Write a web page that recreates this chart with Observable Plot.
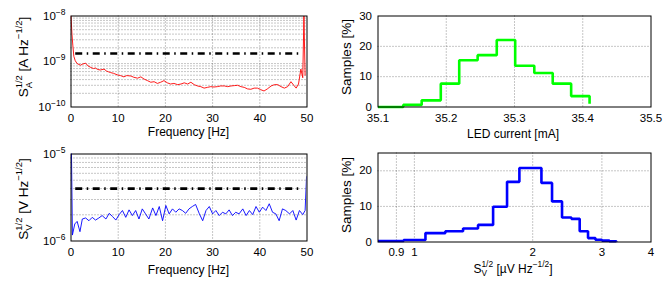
<!DOCTYPE html>
<html><head><meta charset="utf-8">
<script src="https://cdn.jsdelivr.net/npm/d3@7"></script>
<script src="https://cdn.jsdelivr.net/npm/@observablehq/plot@0.6"></script>
<style>
body{margin:0;background:#fff;}
#c{position:relative;width:671px;height:286px;overflow:hidden;}
#c svg{position:absolute;left:0;top:0;}
</style></head><body><div id="c"></div><script>
const font = '"Liberation Sans", Arial, Helvetica, sans-serif';

// ---- Panel A: current noise spectrum (values in units of 1e-10 A/sqrt(Hz))
const freqA = [0, 0.2, 0.4, 0.6, 0.9, 1.3, 1.7, 2.0, 2.5, 3.1,
  3.6, 4.2, 4.8, 5.2, 5.6, 6.2, 7.0, 7.5, 8.0, 8.4,
  9.0, 9.8, 10.5, 11.2, 11.8, 12.7, 13.3, 14.1, 14.8, 15.5,
  16.2, 16.9, 17.6, 18.3, 19.0, 19.7, 20.4, 21.1, 21.8, 22.6,
  23.3, 24.0, 24.7, 25.4, 26.1, 26.8, 27.5, 28.2, 28.9, 29.6,
  30.3, 31.0, 31.7, 32.5, 33.2, 33.9, 34.6, 35.3, 36.0, 36.7,
  37.4, 38.1, 38.8, 39.5, 40.2, 40.9, 41.6, 42.4, 43.1, 43.8,
  44.5, 45.2, 45.9, 46.6, 47.2, 47.7, 48.2, 48.7, 49.1, 49.35, 49.6];
const noiseA = [100, 40, 22, 13, 10.4, 9.0, 8.6, 8.3, 8.8, 9.2,
  8.0, 7.4, 7.0, 7.2, 6.7, 6.5, 6.8, 6.2, 5.9, 5.7,
  5.5, 5.1, 4.9, 4.6, 4.9, 4.8, 4.5, 4.3, 4.6, 4.1,
  3.8, 3.5, 3.6, 3.3, 3.5, 3.8, 3.4, 3.2, 3.3, 3.1,
  3.2, 3.4, 3.2, 3.5, 3.1, 2.9, 2.8, 2.6, 2.7, 2.8,
  2.75, 2.8, 2.9, 2.9, 2.8, 2.9, 2.95, 3.0, 2.8, 2.7,
  2.5, 2.45, 2.6, 2.6, 2.4, 2.25, 2.5, 2.9, 3.1, 3.1,
  2.8, 2.6, 2.8, 3.6, 3.0, 2.6, 3.2, 6.8, 4.4, 100, 5.0];
const unitA = 1e-10;
const limitA = 1.5e-9;
const limitFreq = [1, 49];

// ---- Panel C: voltage noise spectrum (values in uV/sqrt(Hz))
const freqV = [0, 0.3, 0.8, 1.3, 1.9, 2.4, 3.1, 3.8, 4.5, 5.2,
  5.9, 6.6, 7.4, 8.1, 8.8, 9.5, 10.2, 10.9, 11.6, 12.3,
  13.0, 13.7, 14.4, 15.1, 15.8, 16.5, 17.3, 18.0, 18.7, 19.4,
  20.1, 20.8, 21.5, 22.2, 22.9, 23.6, 24.3, 25.0, 25.7, 26.4,
  27.2, 27.9, 28.6, 29.3, 30.0, 30.7, 31.4, 32.1, 32.8, 33.5,
  34.2, 34.9, 35.6, 36.4, 37.1, 37.8, 38.5, 39.2, 39.9, 40.6,
  41.3, 42.0, 42.7, 43.4, 44.1, 44.8, 45.5, 46.3, 47.0, 47.7,
  48.4, 49.1, 49.6, 49.9];
const noiseV = [30, 1.17, 1.57, 1.68, 1.28, 1.79, 1.84, 1.71, 1.87, 1.74,
  1.84, 1.96, 1.79, 2.08, 1.91, 1.74, 2.01, 2.24, 1.87, 2.28,
  1.96, 2.24, 1.79, 2.34, 2.05, 1.79, 2.40, 1.96, 2.49, 1.71,
  2.56, 2.05, 2.34, 2.14, 2.34, 2.24, 2.08, 2.34, 2.49, 2.63,
  2.05, 1.71, 2.24, 2.49, 2.05, 2.24, 1.96, 2.14, 2.05, 2.28,
  1.96, 2.14, 2.05, 2.34, 1.96, 2.24, 2.01, 2.49, 2.14, 2.45,
  2.24, 2.68, 2.14, 2.05, 1.71, 2.34, 2.24, 2.05, 2.24, 1.74,
  2.24, 2.01, 2.24, 5.49];
const unitV = 1e-6;
const limitV = 4e-6;

// ---- Panel B: LED current histogram (stairs)
const ledEdges = [35.1, 35.137, 35.164, 35.192, 35.219, 35.246, 35.274, 35.301, 35.329, 35.356, 35.383, 35.410];
const ledPct = [0, 0.7, 2.2, 7.7, 15.4, 17.1, 22.1, 13.6, 11.2, 7.7, 3.6, 1.1];

// ---- Panel D: voltage noise histogram (stairs, log x)
const noiseEdges = [0.808, 0.939, 1.067, 1.199, 1.330, 1.452, 1.586, 1.721, 1.850, 1.978,
  2.105, 2.240, 2.375, 2.509, 2.634, 2.766, 2.888, 3.002, 3.135, 3.266];
const noisePct = [0.3, 0.56, 2.5, 3.0, 3.8, 4.8, 9.9, 16.9, 20.8, 20.8,
  16.6, 11.4, 6.9, 6.5, 3.0, 1.1, 0.65, 0.4, 0.2, 0.1];

// ---- ticks
const freqTicks = [0, 10, 20, 30, 40, 50];
const decadesA = [1e-10, 1e-9, 1e-8];
const decadesV = [1e-6, 1e-5];
const ledTicks = [35.1, 35.2, 35.3, 35.4, 35.5];
const pctTicksB = [0, 10, 20, 30];
const noiseTicks = [0.9, 1, 2, 3, 4];
const pctTicksD = [0, 10, 20];

// ---- labels
const xLabelA = "Frequency [Hz]";
const xLabelB = "LED current [mA]";
const yLabelB = "Samples [%]";
const yLabelA = [["S","n"],["A","sub"],["1/2","stack"],[" [A Hz","n"],["\u22121/2","sup"],["]","n"]];
const yLabelC = [["S","n"],["V","sub"],["1/2","stack"],[" [V Hz","n"],["\u22121/2","sup"],["]","n"]];
const xLabelD = [["S","n"],["V","sub"],["1/2","stack"],[" [\u00b5V Hz","n"],["\u22121/2","sup"],["]","n"]];

const W = 671, H = 286;
const gridStyle = {stroke: "#000", strokeOpacity: 0.45, strokeDasharray: "1,2"};
const minorGrid = decs => decs.slice(0, -1).flatMap(d => [2,3,4,5,6,7,8,9].map(m => m * d));

const container = document.getElementById("c");

function panel(fr, x, y, marks, xPad, yPad) {
  const [l, r, t, b] = fr;
  const svg = Plot.plot({
    width: W, height: H,
    marginLeft: l, marginRight: W - r, marginTop: t, marginBottom: H - b,
    style: {background: "transparent", fontFamily: font, fontSize: "11.5px", color: "#000", overflow: "visible"},
    x: {...x, tickSize: 0, tickPadding: xPad, label: null},
    y: {...y, tickSize: 0, tickPadding: yPad, label: null},
    marks: [...marks, Plot.frame({stroke: "#000", strokeWidth: 1})]
  });
  container.appendChild(svg);
  return svg;
}

function supTicks(svg, axis) {
  const ns = "http://www.w3.org/2000/svg";
  svg.querySelectorAll(`[aria-label^="${axis}-axis"] text`).forEach(t => {
    const e = t.textContent.trim();
    t.textContent = "";
    const a = document.createElementNS(ns, "tspan"); a.textContent = "10"; t.appendChild(a);
    const b = document.createElementNS(ns, "tspan");
    b.textContent = e.replace("-", "\u2212");
    b.setAttribute("dy", "-5"); b.setAttribute("font-size", "8.5");
    t.appendChild(b);
  });
}

function richText(svg, x, y, rotate, size, parts) {
  const t = d3.select(svg).append("text")
    .attr("transform", `translate(${x},${y}) rotate(${rotate})`)
    .attr("text-anchor", "middle").attr("font-size", size)
    .attr("font-family", font).attr("fill", "#000");
  let base = 0, subW = 0;
  for (const [s, kind] of parts) {
    const off = kind === "n" ? 0 : kind === "sub" ? size * 0.3 : -size * 0.42;
    const ts = t.append("tspan").text(s).attr("dy", off - base);
    if (kind !== "n") ts.attr("font-size", size * 0.7);
    if (kind === "stack") ts.attr("dx", -subW);
    base = off;
    if (kind === "sub") subW = ts.node().getComputedTextLength();
  }
  return t;
}

// ---- Panel A
const frA = [70.5, 306.5, 15.5, 106.5];
const svgA = panel(frA,
  {domain: [0, 50], ticks: freqTicks},
  {type: "log", domain: [1e-10, 1e-8], ticks: decadesA, tickFormat: d => String(Math.round(Math.log10(d)))},
  [
    Plot.ruleY(minorGrid(decadesA), gridStyle),
    Plot.ruleX(freqTicks.slice(1, -1), gridStyle),
    Plot.line(freqA.map((f, i) => ({f, v: noiseA[i] * unitA})), {x: "f", y: "v", stroke: "#ff0000", strokeWidth: 0.9, clip: true}),
    Plot.ruleY([limitA], {x1: limitFreq[0], x2: limitFreq[1], stroke: "#000", strokeWidth: 2.6, strokeDasharray: "7,4.5,1.5,4.5"})
  ], 6.5, 5.5);
supTicks(svgA, "y");
richText(svgA, 188.5, 136, 0, 12, [[xLabelA, "n"]]);
richText(svgA, 27.5, 57, -90, 13.5, yLabelA);

// ---- Panel B
const frB = [377.5, 650.5, 15.5, 106.5];
const svgB = panel(frB,
  {domain: [35.1, 35.5], ticks: ledTicks, tickFormat: d => d.toFixed(1)},
  {domain: [0, 30], ticks: pctTicksB},
  [
    Plot.ruleX(ledTicks.slice(1, -1), gridStyle),
    Plot.ruleY(pctTicksB.slice(1, -1), gridStyle),
    Plot.line(ledEdges.map((e, i) => ({e, p: ledPct[i]})), {x: "e", y: "p", curve: "step-after", stroke: "#00ff00", strokeWidth: 2.6, strokeLinejoin: "miter", strokeLinecap: "butt"})
  ], 6.5, 6);
richText(svgB, 513, 137.5, 0, 12, [[xLabelB, "n"]]);
richText(svgB, 351, 57, -90, 13.5, [[yLabelB, "n"]]);

// ---- Panel C
const frC = [70.5, 306.5, 153.5, 240.5];
const svgC = panel(frC,
  {domain: [0, 50], ticks: freqTicks},
  {type: "log", domain: [1e-6, 1e-5], ticks: decadesV, tickFormat: d => String(Math.round(Math.log10(d)))},
  [
    Plot.ruleY(minorGrid(decadesV), gridStyle),
    Plot.ruleX(freqTicks.slice(1, -1), gridStyle),
    Plot.line(freqV.map((f, i) => ({f, v: noiseV[i] * unitV})), {x: "f", y: "v", stroke: "#0000ff", strokeWidth: 0.9, clip: true}),
    Plot.ruleY([limitV], {x1: limitFreq[0], x2: limitFreq[1], stroke: "#000", strokeWidth: 2.6, strokeDasharray: "7,4.5,1.5,4.5"})
  ], 6.5, 5.5);
supTicks(svgC, "y");
richText(svgC, 188.5, 274, 0, 12, [[xLabelA, "n"]]);
richText(svgC, 27.5, 199, -90, 13.5, yLabelC);

// ---- Panel D
const frD = [377.5, 650.5, 152.5, 241.5];
const svgD = panel(frD,
  {type: "log", domain: [0.808, 4], ticks: noiseTicks, tickFormat: d => String(d)},
  {domain: [0, 25], ticks: pctTicksD},
  [
    Plot.ruleX(noiseTicks.slice(0, -1), gridStyle),
    Plot.ruleY(pctTicksD.slice(1), gridStyle),
    Plot.line(noiseEdges.map((e, i) => ({e, p: noisePct[i]})), {x: "e", y: "p", curve: "step-after", stroke: "#0000ff", strokeWidth: 2.6, strokeLinejoin: "miter", strokeLinecap: "butt"})
  ], 6, 6);
richText(svgD, 513, 272.5, 0, 12, xLabelD);
richText(svgD, 351, 195, -90, 13.5, [[yLabelB, "n"]]);
</script></body></html>
